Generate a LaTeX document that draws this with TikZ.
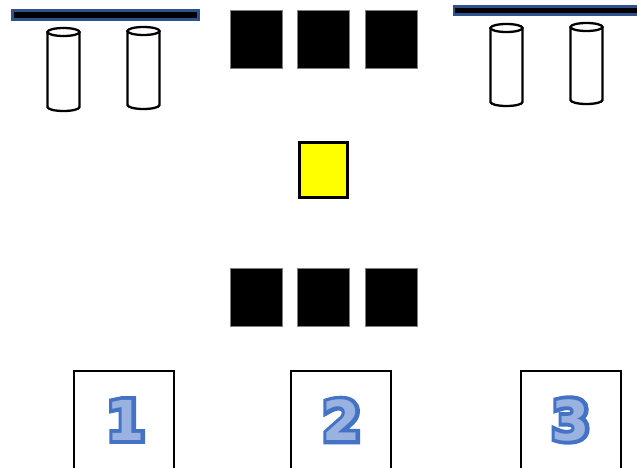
\documentclass[tikz,border=0pt]{standalone}
\usepackage{fontspec}
\usepackage{tikz}
\usetikzlibrary{positioning}
\usepackage{xcolor}
\definecolor{barblue}{HTML}{2F528F}
\definecolor{numblue}{HTML}{4472C4}
\definecolor{numlight}{HTML}{9AB2E0}
\definecolor{tileedge}{HTML}{7F7F7F}
\definecolor{pickyellow}{HTML}{FFFF00}
\newfontfamily\numfont{DejaVu Sans}[UprightFont={* Bold}]
\newfontfamily\numrim{DejaVu Sans}[UprightFont={* Bold}, FakeBold=14]

\begin{document}
\begin{tikzpicture}[x=1pt, y=-1pt,
    tile/.style={draw=tileedge, fill=black, line width=0.8pt, minimum width=52pt, minimum height=58pt, inner sep=0pt},
    slot/.style={draw=black, fill=white, line width=2pt, minimum width=100pt, minimum height=98pt, inner sep=0pt},
    bar/.style={draw=barblue, fill=black, line width=2.6pt, inner sep=0pt},
    digitrim/.style={font={\numrim\fontsize{55}{55}\selectfont}, text=numblue, inner sep=0pt},
    digitfill/.style={font={\numfont\fontsize{55}{55}\selectfont}, text=numlight, inner sep=0pt},
    can/.pic={
      \draw[line width=2.3pt, fill=white] (-16,0) -- (-16,#1)
        arc[start angle=180, end angle=0, x radius=16, y radius=4] -- (16,0);
      \draw[line width=2.3pt, fill=white] (0,0) ellipse[x radius=16, y radius=4];
    }]
    \useasboundingbox (0,0) rectangle (637,468);

    % shelves with their cans
    \node[bar, minimum width=186pt, minimum height=9pt] (shelfL) at (105.5,15) {};
    \node[bar, minimum width=190pt, minimum height=8.5pt] (shelfR) at (549,10.5) {};
    \pic at (63.5,32) {can=75};
    \pic at (143.5,31) {can=74};
    \pic at (506.5,28) {can=74};
    \pic at (586.5,27) {can=73};

    % top and bottom rows
    \node[tile] (t1) at (256,39) {};
    \node[tile] (t2) at (323.5,39) {};
    \node[tile] (t3) at (391,39) {};
    \node[draw=black, fill=pickyellow, line width=2.4pt, minimum width=48pt,
          minimum height=55pt, inner sep=0pt] (pick) at (323.5,170) {};
    \node[tile] (b1) at (256,297) {};
    \node[tile] (b2) at (323.5,297) {};
    \node[tile] (b3) at (391,297) {};

    % numbered slots
    \node[slot] (slot1) at (124,420) {};
    \node[slot] (slot2) at (341,420) {};
    \node[slot] (slot3) at (571,420) {};
    \node[digitrim] (one) at (126,420) {1};
    \node[digitfill] (onefill) at (one.center) {1};
    \node[digitrim] (two) at (342,420) {2};
    \node[digitfill] (twofill) at (two.center) {2};
    \node[digitrim] (three) at (571,420) {3};
    \node[digitfill] (threefill) at (three.center) {3};
\end{tikzpicture}
\end{document}
